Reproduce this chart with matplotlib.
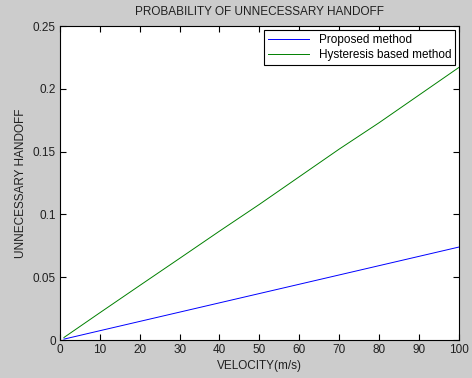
import matplotlib
matplotlib.use('Agg')
import matplotlib.pyplot as plt

plt.rcParams['font.family'] = ['Liberation Sans', 'DejaVu Sans']

velocity = [1, 10, 20, 30, 40, 50, 60, 70, 80, 90, 100]
proposed = [0.0007, 0.0074, 0.0148, 0.0222, 0.0296, 0.037, 0.0444, 0.0518, 0.0592, 0.0666, 0.074]
hysteresis = [0.002, 0.0217, 0.0434, 0.065, 0.0867, 0.108, 0.13, 0.152, 0.173, 0.195, 0.217]

x_ticks = [0, 10, 20, 30, 40, 50, 60, 70, 80, 90, 100]
y_ticks = [0, 0.05, 0.1, 0.15, 0.2, 0.25]
y_labels = ['0', '0.05', '0.1', '0.15', '0.2', '0.25']

fig = plt.figure(figsize=(4.72, 3.78), dpi=100, facecolor='#cccccc')
ax = fig.add_axes([0.127, 0.1005, 0.845, 0.8305])
ax.set_facecolor('white')

ax.plot(velocity, proposed, color='#0000ff', linewidth=0.7, label='Proposed method')
ax.plot(velocity, hysteresis, color='#008000', linewidth=0.7, label='Hysteresis based method')

ax.set_xlim(0, 100)
ax.set_ylim(0, 0.25)
ax.set_xticks(x_ticks)
ax.set_yticks(y_ticks)
ax.set_yticklabels(y_labels)
ax.tick_params(direction='in', top=True, right=True, length=4, width=0.8,
               labelsize=8.5, pad=3, colors='black', labelcolor='#202020')
for s in ax.spines.values():
    s.set_linewidth(0.8)

ax.set_xlabel('VELOCITY(m/s)', fontsize=8.5, labelpad=3, color='#202020')
ax.set_ylabel('UNNECESSARY HANDOFF', fontsize=8.5, labelpad=4, color='#202020')
ax.set_title('PROBABILITY OF UNNECESSARY HANDOFF', fontsize=8.5, pad=8, color='#202020')

leg = ax.legend(loc='upper right', fontsize=8.5, fancybox=False, framealpha=1,
                edgecolor='black', handlelength=3.5, borderaxespad=0.3,
                borderpad=0.35, labelspacing=0.3)
leg.get_frame().set_linewidth(0.8)

fig.savefig('out.png', dpi=100, facecolor=fig.get_facecolor())
